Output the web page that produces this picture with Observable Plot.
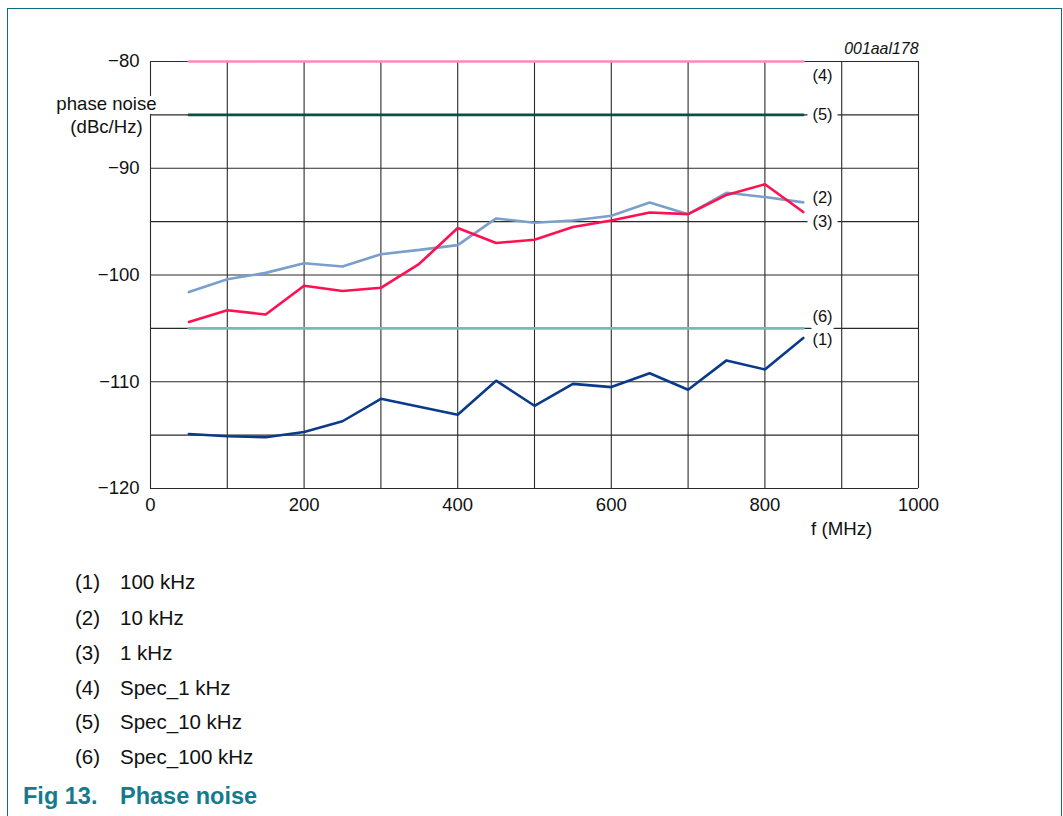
<!DOCTYPE html>
<html>
<head>
<meta charset="utf-8">
<script src="https://cdn.jsdelivr.net/npm/d3@7"></script>
<script src="https://cdn.jsdelivr.net/npm/@observablehq/plot@0.6"></script>
<style>
  html, body { margin: 0; padding: 0; background: #fff; }
  #page { position: relative; width: 1063px; height: 816px; overflow: hidden; font-family: "Liberation Sans", Arial, sans-serif; }
  #frame { position: absolute; left: 6.5px; top: 7.5px; width: 1053px; height: 900px; border: 1.6px solid #0b6f80; border-bottom: none; pointer-events: none; }
  #chart { position: absolute; left: 0; top: 0; }
  .leg { position: absolute; left: 75px; font-size: 20.5px; color: #111; }
  .leg span.k { display: inline-block; width: 45px; }
  #fig { position: absolute; left: 23px; top: 783px; font-size: 23.5px; font-weight: bold; color: #157a8c; }
  #fig span.k { display: inline-block; width: 97px; }
</style>
</head>
<body>
<div id="page">
  <div id="chart"></div>
  <div id="legend"></div>
  <div id="fig"><span class="k">Fig 13.</span>Phase noise</div>
  <div id="frame"></div>
</div>
<script>
// ---- data ----
const freqs = [50, 100, 150, 200, 250, 300, 350, 400, 450, 500, 550, 600, 650, 700, 750, 800, 850];
const noise100kHz = [-114.9, -115.1, -115.2, -114.7, -113.7, -111.6, -112.35, -113.1, -109.9, -112.25, -110.2, -110.5, -109.2, -110.75, -108.0, -108.85, -105.9];
const noise10kHz  = [-101.6, -100.4, -99.8, -98.9, -99.2, -98.05, -97.65, -97.2, -94.7, -95.1, -94.9, -94.45, -93.2, -94.3, -92.3, -92.7, -93.2];
const noise1kHz   = [-104.4, -103.3, -103.7, -101.0, -101.5, -101.2, -98.95, -95.6, -97.0, -96.7, -95.5, -94.9, -94.15, -94.3, -92.5, -91.5, -94.1];
const specFreqRange = [50, 850];
const spec1kHz = -80;
const spec10kHz = -85;
const spec100kHz = -105;

const seriesNames = ["100 kHz", "10 kHz", "1 kHz", "Spec_1 kHz", "Spec_10 kHz", "Spec_100 kHz"];
const seriesTags = ["(1)", "(2)", "(3)", "(4)", "(5)", "(6)"];
const seriesColors = ["#0b3a8a", "#7a9fcb", "#ff1050", "#ff88b8", "#0c4f43", "#7fb8b0"];

const xTicks = [0, 200, 400, 600, 800, 1000];
const xGrid = [0, 100, 200, 300, 400, 500, 600, 700, 800, 900, 1000];
const yTicks = [-80, -90, -100, -110, -120];
const yGrid = [-80, -85, -90, -95, -100, -105, -110, -115, -120];

// label anchors (data coordinates)
const tagX = 875;
const tagY = [-106.1, -92.75, -95.0, -81.3, -85.0, -103.9];

// ---- build ----
const measured = [noise100kHz, noise10kHz, noise1kHz];
const lineRows = [];
measured.forEach((arr, i) => arr.forEach((v, j) => lineRows.push({f: freqs[j], v, s: i})));
const specVals = [spec1kHz, spec10kHz, spec100kHz];
const specRows = [];
specVals.forEach((v, k) => specFreqRange.forEach(f => specRows.push({f, v, s: k + 3})));

const tagRows = seriesTags.map((t, i) => ({t, x: tagX, y: tagY[i], i}));
const gridColor = "#2a2a2a";
const font = "Liberation Sans, Arial, sans-serif";

const chart = Plot.plot({
  width: 1063,
  height: 560,
  marginLeft: 150,
  marginRight: 145,
  marginTop: 61,
  marginBottom: 72,
  style: {fontFamily: font, fontSize: "18.5px", color: "#111", background: "transparent", overflow: "visible"},
  x: {domain: [0, 1000], ticks: xTicks, tickFormat: d3.format("d"), tickSize: 0, tickPadding: 9, label: null},
  y: {domain: [-120, -80], ticks: yTicks, tickSize: 0, tickPadding: 11, label: null},
  marks: [
    Plot.ruleX(xGrid, {stroke: gridColor, strokeWidth: 1.1}),
    Plot.ruleY(yGrid, {stroke: gridColor, strokeWidth: 1.1}),
    Plot.line(specRows, {x: "f", y: "v", z: "s", stroke: d => seriesColors[d.s], strokeWidth: 2.6}),
    Plot.line(lineRows, {x: "f", y: "v", z: "s", stroke: d => seriesColors[d.s], strokeWidth: 2.6, strokeLinejoin: "miter"}),
    Plot.text(tagRows.filter(d => d.i !== 3), {x: "x", y: "y", text: "t", fontSize: 16.5, fill: "#111",
      stroke: "white", strokeWidth: 12, paintOrder: "stroke"}),
    Plot.text(tagRows.filter(d => d.i === 3), {x: "x", y: "y", text: "t", fontSize: 16.5, fill: "#111"}),
    Plot.text(["phase noise\n(dBc/Hz)"], {x: 0, y: -84.9, dx: -44, textAnchor: "middle", fontSize: 18.6,
      lineHeight: 1.25, fill: "#111", stroke: "white", strokeWidth: 8, paintOrder: "stroke"}),
    Plot.text(["f (MHz)"], {x: 900, y: -120, dy: 41, fontSize: 18.7, fill: "#111"}),
    Plot.text(["001aal178"], {x: 1000, y: -80, dy: -13, textAnchor: "end", fontSize: 15.9, fontStyle: "italic", fill: "#111"})
  ]
});
document.getElementById("chart").appendChild(chart);

// legend below
const legendTops = [582, 618, 653, 688, 722, 757];
const legend = document.getElementById("legend");
seriesNames.forEach((name, i) => {
  const div = document.createElement("div");
  div.className = "leg";
  div.style.top = (legendTops[i] - 12) + "px";
  div.innerHTML = `<span class="k">${seriesTags[i]}</span>${name}`;
  legend.appendChild(div);
});
</script>
</body>
</html>
